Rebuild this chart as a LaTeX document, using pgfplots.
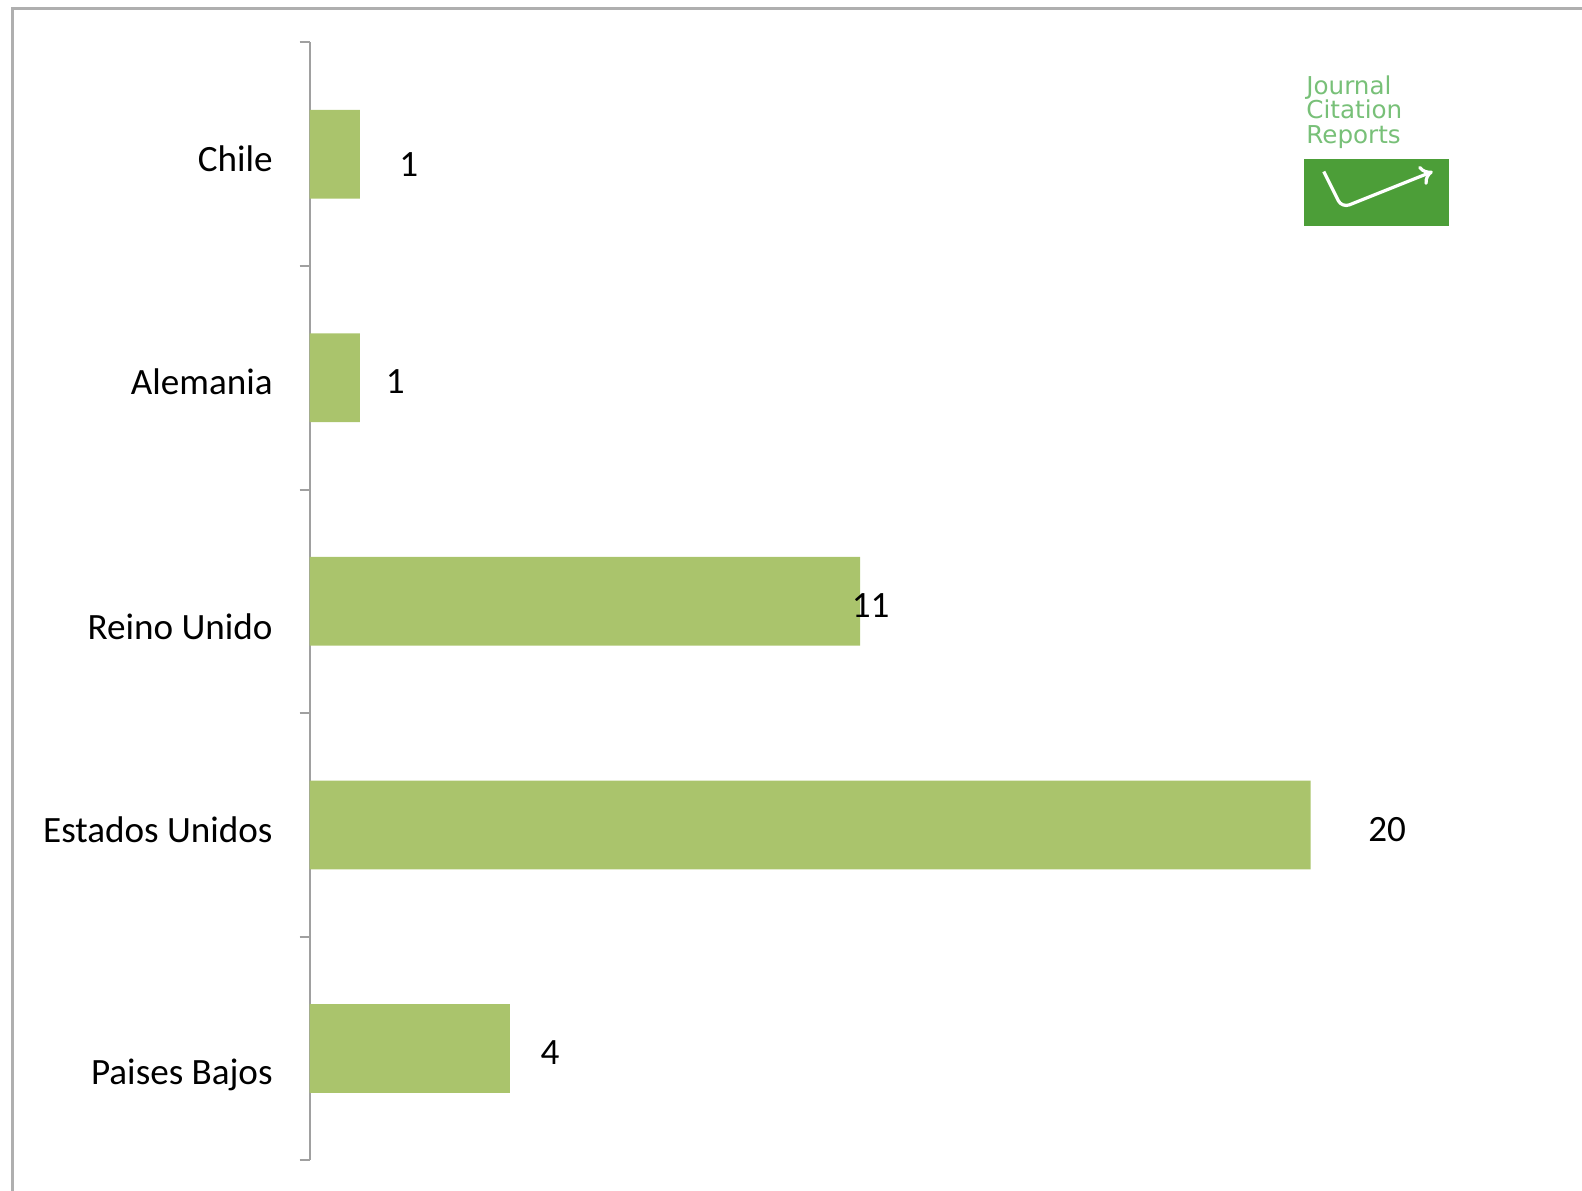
\documentclass[border=0pt]{standalone}
\usepackage{pgfplots}
\pgfplotsset{compat=1.18}
\usetikzlibrary{arrows.meta}
\usepackage{fontspec}
\setmainfont{Carlito}
\newfontfamily\logofont{DejaVu Sans}
\definecolor{barfill}{RGB}{170,196,108}
\definecolor{axisgray}{RGB}{160,160,160}
\definecolor{framegray}{RGB}{175,175,175}
\definecolor{logobox}{RGB}{76,158,56}
\definecolor{logotext}{RGB}{120,192,120}

% bars: position, value
\pgfplotstableread{
y v
1 1
2 1
3 11
4 20
5 4
}\bars
% value labels: where the label sits, and its text
\pgfplotstableread{
lx ly v
1.98 1.046 1
1.71 2.016 1
11.21 3.018 11
21.53 4.020 20
4.80 5.020 4
}\labels

\begin{document}
\begin{tikzpicture}[font=\fontsize{9.2}{11}\selectfont]
\useasboundingbox (0,0) rectangle (392pt,-295pt);
% outer chart frame (only top and left edges are visible)
\draw[framegray, line width=0.75pt] (3pt,-300pt) -- (3pt,-2pt) -- (400pt,-2pt);

\begin{axis}[
  at={(76.75pt,-287.5pt)}, anchor=south west,
  scale only axis,
  width=310pt, height=277pt,
  xmin=0, xmax=25,
  ymin=0.5, ymax=5.5,
  y dir=reverse,
  axis x line=none,
  axis y line*=left,
  axis line style={axisgray, line width=0.6pt, -},
  xtick=\empty,
  ytick={1.019,2.016,3.113,4.02,5.12},
  yticklabels={Chile,Alemania,Reino Unido,Estados Unidos,Paises Bajos},
  major tick length=0pt,
  minor ytick={0.5,1.5,2.5,3.5,4.5,5.5},
  minor tick length=2.5pt,
  tick align=outside,
  minor tick style={axisgray, line width=0.5pt},
  yticklabel style={inner sep=0pt, xshift=-9pt},
  clip=false,
]
\addplot[xbar, bar width=22pt, bar shift=0pt, fill=barfill, draw=none]
  table[x=v, y=y] {\bars};
\addplot[draw=none, mark=none, nodes near coords, point meta=explicit symbolic,
  nodes near coords align=center,
  every node near coord/.append style={inner sep=0pt, text=black}]
  table[x=lx, y=ly, meta=v] {\labels};
\end{axis}

% Journal Citation Reports logo
\node[anchor=north west, align=left, inner sep=0pt, text=logotext,
  font=\logofont\fontsize{6.1}{6.1}\selectfont] at (323.5pt,-18.5pt)
  {Journal\\Citation\\Reports};
\fill[logobox] (323pt,-39.5pt) rectangle (359pt,-56pt);
\draw[white, line width=0.8pt, rounded corners=2pt, -{To[length=3pt,width=5pt]}]
  (328pt,-42.5pt) -- (332.5pt,-51.5pt) -- (355pt,-42.5pt);
\end{tikzpicture}
\end{document}
